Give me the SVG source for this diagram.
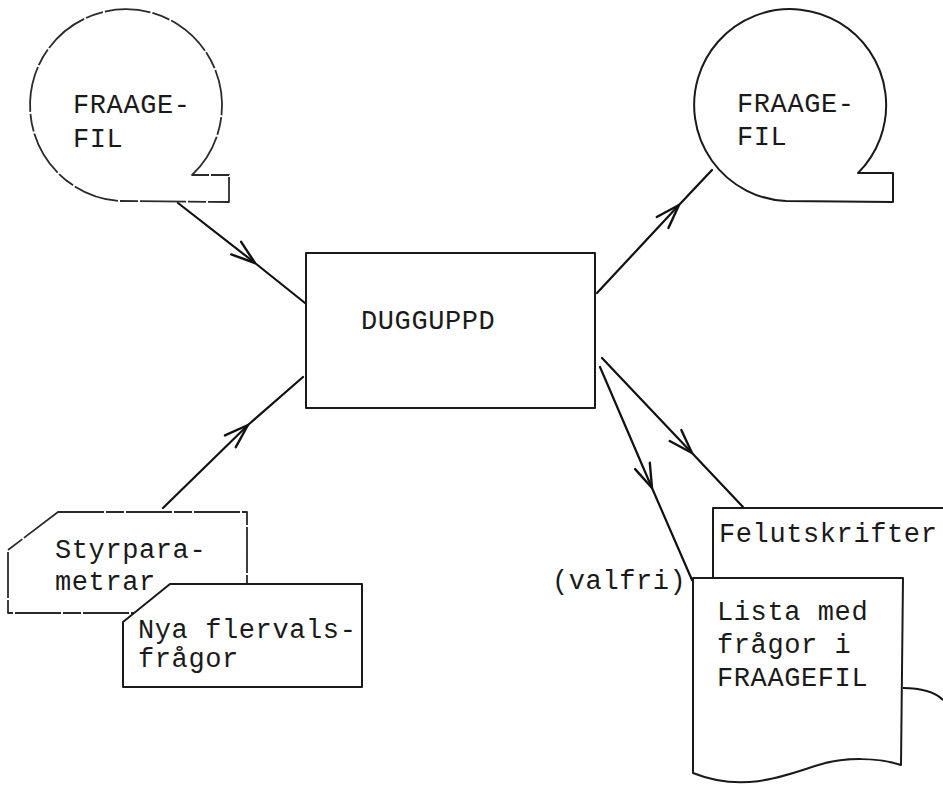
<svg xmlns="http://www.w3.org/2000/svg" width="943" height="788" viewBox="0 0 943 788">
  <style>
    .shape { fill: #ffffff; stroke: #1a1a1a; stroke-width: 2; stroke-linejoin: round; }
    .faint { stroke: #2a2a2a; stroke-width: 1.8; stroke-dasharray: 46 2 18 2; }
    .label { font-family: "Liberation Mono", "Courier New", monospace; font-size: 27px; letter-spacing: 0.6px; fill: #1a1a1a; }
    .flow { fill: none; stroke: #111111; stroke-width: 2.2; stroke-linecap: round; marker-mid: url(#head); }
  </style>
  <defs>
    <!-- open V arrowhead placed midway along each flow line -->
    <marker id="head" markerUnits="userSpaceOnUse" markerWidth="30" markerHeight="20" viewBox="-26 -10 28 20" refX="0" refY="0" orient="auto">
      <path d="M-24,-8 L0,0 L-24,8" fill="none" stroke="#111111" stroke-width="2.4" stroke-linecap="round" stroke-linejoin="round"/>
    </marker>
  </defs>

  <!-- flow lines -->
  <g id="connectors">
    <path class="flow" d="M178,203 L255,263 L305,303"/>
    <path class="flow" d="M163,508 L248,425 L303,377"/>
    <path class="flow" d="M597,293 L679,205 L712,170"/>
    <path class="flow" d="M602,358 L692,453 L743,507"/>
    <path class="flow" d="M600,367 L652,488 L692,580"/>
    <path fill="none" stroke="#111111" stroke-width="2.2" d="M903,688 C920,688 935,692 943,700"/>
  </g>

  <!-- input tape file -->
  <g id="tape-in">
    <path class="shape faint" d="M192,175 A96,96 0 1 0 119,201 L229,202 L229,175 Z"/>
    <text class="label" x="73" y="113">FRAAGE-</text>
    <text class="label" x="73" y="147">FIL</text>
  </g>

  <!-- output tape file -->
  <g id="tape-out">
    <path class="shape" d="M858,173 A96,96 0 1 0 786,201 L893,202 L893,173 Z"/>
    <text class="label" x="737" y="112">FRAAGE-</text>
    <text class="label" x="737" y="145">FIL</text>
  </g>

  <!-- program -->
  <g id="program">
    <rect class="shape" x="306" y="253" width="289" height="155"/>
    <text class="label" x="361" y="329">DUGGUPPD</text>
  </g>

  <!-- punched card inputs -->
  <g id="card-styr">
    <path class="shape faint" d="M58,512 L247,512 L247,613 L8,613 L8,550 Z"/>
    <text class="label" x="55" y="558">Styrpara-</text>
    <text class="label" x="55" y="590">metrar</text>
  </g>
  <g id="card-nya">
    <path class="shape" d="M170,584 L362,584 L362,687 L123,687 L123,622 Z"/>
    <text class="label" x="138" y="638">Nya flervals-</text>
    <text class="label" x="138" y="667">frågor</text>
  </g>

  <!-- printed outputs -->
  <g id="report-fel">
    <path class="shape" d="M943,508 L713,508 L713,578"/>
    <text class="label" x="719" y="542">Felutskrifter</text>
  </g>
  <g id="report-lista">
    <path class="shape" d="M693,578 L903,578 L901,765 C880,758 845,756 815,766 C780,778 740,792 693,773 Z"/>
    <text class="label" x="717" y="620">Lista med</text>
    <text class="label" x="717" y="653">frågor i</text>
    <text class="label" x="717" y="686">FRAAGEFIL</text>
  </g>
  <text id="note-valfri" class="label" x="552" y="589">(valfri)</text>
</svg>
